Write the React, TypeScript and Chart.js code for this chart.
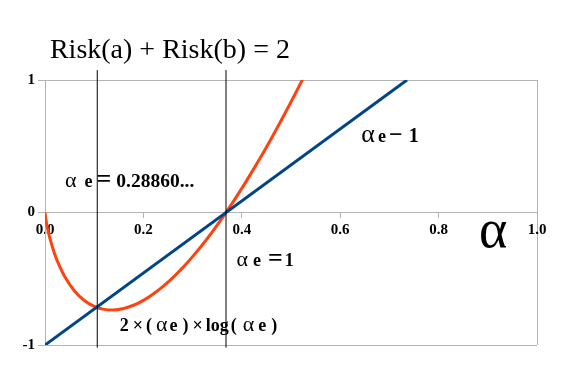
import React, { useEffect, useRef } from "react";
import { Chart, registerables } from "chart.js";

Chart.register(...registerables);

// orange curve: 2·(αe)·log(αe)
const curveAlpha = [0, 0.002, 0.005, 0.01, 0.02, 0.03, 0.04, 0.06, 0.08, 0.1, 0.12, 0.14, 0.16, 0.18, 0.2, 0.22, 0.24, 0.26, 0.28, 0.3, 0.32, 0.34, 0.36, 0.38, 0.4, 0.42, 0.44, 0.46, 0.48, 0.5, 0.52, 0.525];
const curveRisk = [0, -0.057, -0.117, -0.196, -0.317, -0.409, -0.483, -0.592, -0.664, -0.708, -0.731, -0.735, -0.724, -0.700, -0.663, -0.615, -0.557, -0.491, -0.416, -0.333, -0.243, -0.146, -0.042, 0.067, 0.182, 0.303, 0.428, 0.559, 0.694, 0.834, 0.978, 1.015];

// blue line: αe − 1
const lineAlpha = [0, 0.7358];
const lineRisk = [-1, 1];

// vertical markers
const markerAlpha = [0.1062, 0.3679];
const markerSpan = [-1.02, 1.075];

const xTicks = [0, 0.2, 0.4, 0.6, 0.8, 1.0];
const yTicks = [-1, 0, 1];

const SERIF = `"Liberation Serif"`;

type Run = { t: string; f: string; gap?: number };
type Note = { x: number; y: number; runs: Run[] };

const B18 = `bold 18px ${SERIF}`;
const A22 = `22px ${SERIF}`;

const notes: Note[] = [
  { x: 0.010, y: 1.165, runs: [{ t: "Risk(a) + Risk(b) = 2", f: `28px ${SERIF}` }] },
  {
    x: 0.643, y: 0.534, runs: [
      { t: "α", f: `26px ${SERIF}` },
      { t: "e", f: B18, gap: 3 },
      { t: "−", f: `bold 24px ${SERIF}`, gap: 3 },
      { t: "1", f: `bold 20px ${SERIF}`, gap: 6 },
    ]
  },
  {
    x: 0.0406, y: 0.195, runs: [
      { t: "α", f: A22 },
      { t: "e", f: B18, gap: 8 },
      { t: "=", f: `bold 26px ${SERIF}`, gap: 4 },
      { t: "0.28860...", f: `bold 19.5px ${SERIF}`, gap: 5 },
    ]
  },
  {
    x: 0.389, y: -0.406, runs: [
      { t: "α", f: A22 },
      { t: "e", f: B18, gap: 5 },
      { t: "=", f: `bold 26px ${SERIF}`, gap: 7 },
      { t: "1", f: `bold 18px ${SERIF}`, gap: 2 },
    ]
  },
  {
    x: 0.152, y: -0.895, runs: [
      { t: "2", f: B18 },
      { t: "×", f: B18, gap: 4 },
      { t: "(", f: B18, gap: 3 },
      { t: "α", f: A22, gap: 4 },
      { t: "e", f: B18, gap: 2 },
      { t: ")", f: B18, gap: 5 },
      { t: "×", f: B18, gap: 4 },
      { t: "log", f: B18, gap: 3 },
      { t: "(", f: B18, gap: 2 },
      { t: "α", f: A22, gap: 6 },
      { t: "e", f: B18, gap: 4 },
      { t: ")", f: B18, gap: 5 },
    ]
  },
  { x: 0.882, y: -0.263, runs: [{ t: "α", f: `54px ${SERIF}` }] },
];

const notesPlugin = {
  id: "notes",
  afterDatasetsDraw(chart: any) {
    const { ctx, scales } = chart;
    const xs = scales.x;
    const ys = scales.y;
    ctx.save();
    ctx.fillStyle = "#000";
    ctx.textBaseline = "alphabetic";
    ctx.textAlign = "left";
    for (const n of notes) {
      let px = xs.getPixelForValue(n.x);
      const py = ys.getPixelForValue(n.y);
      for (const r of n.runs) {
        px += r.gap || 0;
        ctx.font = r.f;
        ctx.fillText(r.t, px, py);
        px += ctx.measureText(r.t).width;
      }
    }
    ctx.restore();
  },
};

const GRID = "#b3b3b3";

export default function App() {
  const ref = useRef<HTMLCanvasElement | null>(null);
  useEffect(() => {
    if (!ref.current) return;
    Chart.defaults.font.family = SERIF;
    const chart = new Chart(ref.current, {
      type: "scatter",
      data: {
        datasets: [
          {
            label: "marker1",
            data: markerSpan.map((y) => ({ x: markerAlpha[0], y })),
            showLine: true,
            borderColor: "#000",
            borderWidth: 1,
            pointRadius: 0,
            clip: false,
          } as any,
          {
            label: "marker2",
            data: markerSpan.map((y) => ({ x: markerAlpha[1], y })),
            showLine: true,
            borderColor: "#000",
            borderWidth: 1,
            pointRadius: 0,
            clip: false,
          } as any,
          {
            label: "αe−1",
            data: lineAlpha.map((x, i) => ({ x, y: lineRisk[i] })),
            showLine: true,
            borderColor: "#004586",
            borderWidth: 3,
            pointRadius: 0,
          },
          {
            label: "2(αe)log(αe)",
            data: curveAlpha.map((x, i) => ({ x, y: curveRisk[i] })),
            showLine: true,
            borderColor: "#ff420e",
            borderWidth: 3,
            pointRadius: 0,
            cubicInterpolationMode: "monotone",
          } as any,
        ],
      },
      options: {
        responsive: false,
        animation: false,
        layout: { padding: { left: 0, top: 80, right: 37, bottom: 30 } },
        plugins: { legend: { display: false }, tooltip: { enabled: false }, title: { display: false } },
        scales: {
          x: {
            type: "linear",
            min: 0,
            max: 1,
            position: { y: 0 } as any,
            afterBuildTicks: (s: any) => { s.ticks = xTicks.map((v) => ({ value: v })); },
            ticks: {
              callback: (v: any) => Number(v).toFixed(1),
              font: { family: SERIF, size: 15, weight: "bold" },
              color: "#000",
              padding: 4,
              maxRotation: 0,
            },
            grid: {
              color: (c: any) => (c.tick && c.tick.value === 1 ? GRID : "rgba(0,0,0,0)"),
              tickColor: GRID,
              tickLength: 5,
              lineWidth: 1,
            },
            border: { display: true, color: GRID },
          },
          y: {
            type: "linear",
            min: -1,
            max: 1,
            afterBuildTicks: (s: any) => { s.ticks = yTicks.map((v) => ({ value: v })); },
            afterFit: (s: any) => { s.width = 45; },
            ticks: {
              font: { family: SERIF, size: 15, weight: "bold" },
              color: "#000",
              padding: 3,
            },
            grid: { color: GRID, tickColor: GRID, tickLength: 7, lineWidth: 1 },
            border: { display: true, color: GRID },
          },
        },
      },
      plugins: [notesPlugin],
    } as any);
    return () => { chart.destroy(); };
  }, []);
  return (
    <div style={{ position: "fixed", left: 0, top: 0, width: 574, height: 375, background: "#fff" }}>
      <canvas ref={ref} width={574} height={375} style={{ display: "block" }} />
    </div>
  );
}
